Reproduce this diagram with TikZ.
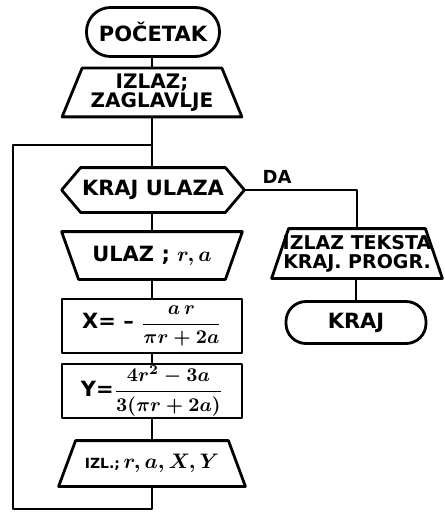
\documentclass[tikz,border=0pt]{standalone}
\usepackage{amsmath}
\usepackage{graphicx}
\usepackage{fontspec}
\setmainfont{DejaVu Sans}
\usetikzlibrary{calc}
\newcommand{\mymath}[1]{\scalebox{2.1}{\fontsize{10}{12}\selectfont\boldmath$#1$}}
\newcommand{\fracmath}[1]{\scalebox{1.95}{\fontsize{10}{12}\selectfont\boldmath$\displaystyle #1$}}
\begin{document}
\begin{tikzpicture}[x=1pt,y=-1pt,
  line width=2.8pt, line join=round,
  font=\fontsize{21}{21}\selectfont\bfseries,
  blk/.style={rectangle,inner sep=0pt,align=center},
  two/.style={font=\fontsize{20}{19}\selectfont\bfseries},
  twos/.style={font=\fontsize{19}{19}\selectfont\bfseries},
  term/.style={blk,draw,rounded corners=#1},
  term/.default=20pt,
  proc/.style={blk,draw},
  lbl/.style={inner sep=0pt,font=\fontsize{18}{18}\selectfont\bfseries}]
\useasboundingbox (0,0) rectangle (444,513);
% nodes
\node[term=24pt,minimum width=133pt,minimum height=49pt] (start) at (153,32) {POČETAK};
\node[blk,two,minimum width=177pt,minimum height=46pt] (out1) at (152,92.5) {IZLAZ;\\ZAGLAVLJE};
\node[blk,minimum width=180pt,minimum height=42pt] (dec) at (153,190) {KRAJ ULAZA};
\node[blk,minimum width=178pt,minimum height=45pt] (in1) at (152,255.5) {ULAZ ; \mymath{r, a}};
\node[proc,minimum width=180pt,minimum height=54pt] (cx) at (152,326) {X= -- \fracmath{\frac{a\,r}{\pi r+2a}}};
\node[proc,minimum width=180pt,minimum height=54pt] (cy) at (152,391) {Y=\fracmath{\frac{4r^2-3a}{3(\pi r+2a)}}};
\node[blk,minimum width=184pt,minimum height=43pt] (out2) at (152,463.5) {{\fontsize{14}{16}\selectfont IZL.;}\,\mymath{r, a, X, Y}};
\node[blk,twos,minimum width=168pt,minimum height=47pt] (out3) at (357,253.5) {IZLAZ TEKSTA\\KRAJ. PROGR.};
\node[term=20pt,minimum width=140pt,minimum height=42pt] (end) at (356,322.5) {KRAJ};
\node[lbl] (da) at (277,177) {DA};
\coordinate (j) at (152,145);
\coordinate (lb) at (152,509);
\coordinate (lbl) at (13,509);
\coordinate (ltl) at (13,145);
% shapes
\draw ($(out1.north west)+(20,0)$) -- ($(out1.north east)+(-20,0)$) -- (out1.south east) -- (out1.south west) -- cycle;
\draw (dec.west) -- ($(dec.north west)+(19,0)$) -- ($(dec.north east)+(-19,0)$) -- (dec.east) -- ($(dec.south east)+(-19,0)$) -- ($(dec.south west)+(19,0)$) -- cycle;
\draw (in1.north west) -- (in1.north east) -- ($(in1.south east)+(-17,0)$) -- ($(in1.south west)+(17,0)$) -- cycle;
\draw ($(out2.north west)+(17,0)$) -- ($(out2.north east)+(-17,0)$) -- (out2.south east) -- (out2.south west) -- cycle;
\draw ($(out3.north west)+(17,0)$) -- ($(out3.north east)+(-17,0)$) -- (out3.south east) -- (out3.south west) -- cycle;
% connectors
\draw (start.south -| out1.north) -- (out1.north);
\draw (out1.south) -- (out1.south |- dec.north);
\draw (dec.south -| in1.north) -- (in1.north);
\draw (in1.south) -- (cx.north);
\draw (cx.south) -- (cy.north);
\draw (cy.south) -- (out2.north);
\draw (out2.south) -- (lb) -- (lbl) -- (ltl) -- (j);
\draw (dec.east) -| (out3.north);
\draw (out3.south -| end.north) -- (end.north);
\end{tikzpicture}
\end{document}
